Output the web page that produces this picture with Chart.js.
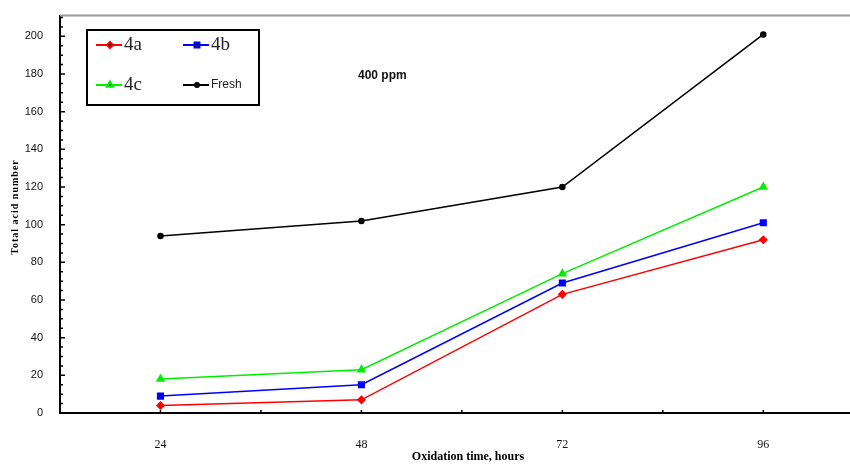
<!DOCTYPE html>
<html>
<head>
<meta charset="utf-8">
<script src="https://cdn.jsdelivr.net/npm/chart.js@4"></script>
<style>
  body { margin: 0; background: #fff; }
  canvas { display: block; }
</style>
</head>
<body>
<canvas id="acidChart" width="850" height="465"></canvas>
<script>
const hours = [24, 48, 72, 96];
const seriesNames = ['4a', '4b', '4c', 'Fresh'];
const values4a = [4, 7, 63, 92];
const values4b = [9, 15, 69, 101];
const values4c = [18, 23, 74, 120];
const valuesFresh = [94, 102, 120, 201];
const yTickValues = [0, 20, 40, 60, 80, 100, 120, 140, 160, 180, 200];
const xMinorTicks = [24, 36, 48, 60, 72, 84, 96];

const toPoints = (vals) => vals.map((v, i) => ({ x: hours[i], y: v }));

// legend, axis titles, inward tick marks, top frame line and "400 ppm" label
const decorations = {
    id: 'decorations',
    afterDraw(chart) {
        const ctx = chart.ctx;
        const area = chart.chartArea;
        const xs = chart.scales.x;
        const ys = chart.scales.y;
        ctx.save();

        // top frame, and bottom axis carried to the edge
        ctx.strokeStyle = '#9a9a9a';
        ctx.lineWidth = 2;
        ctx.beginPath();
        ctx.moveTo(area.left, area.top);
        ctx.lineTo(850, area.top);
        ctx.stroke();
        ctx.strokeStyle = '#000';
        ctx.beginPath();
        ctx.moveTo(area.right - 2, area.bottom);
        ctx.lineTo(850, area.bottom);
        ctx.stroke();

        // inward ticks
        ctx.lineWidth = 1.5;
        ctx.beginPath();
        for (let v = 5; v <= 210; v += 5) {
            const y = ys.getPixelForValue(v);
            const len = v % 20 === 0 ? 5 : 3;
            ctx.moveTo(area.left, y);
            ctx.lineTo(area.left + len, y);
        }
        xMinorTicks.forEach(v => {
            const x = xs.getPixelForValue(v);
            ctx.moveTo(x, area.bottom);
            ctx.lineTo(x, area.bottom - 3);
        });
        ctx.stroke();

        // axis titles
        ctx.fillStyle = '#000';
        ctx.font = 'bold 12px "Liberation Serif"';
        ctx.textAlign = 'center';
        ctx.textBaseline = 'middle';
        ctx.fillText('Oxidation time, hours', 468, 457);

        ctx.save();
        ctx.translate(15, 207);
        ctx.rotate(-Math.PI / 2);
        ctx.font = 'bold 10px "Liberation Serif"';
        ctx.letterSpacing = '1px';
        ctx.fillText('Total acid number', 0, 0);
        ctx.restore();

        // 400 ppm label
        ctx.font = 'bold 12px "Liberation Sans"';
        ctx.textAlign = 'left';
        ctx.fillStyle = '#111';
        ctx.fillText('400 ppm', 358, 76);

        // legend box
        ctx.strokeStyle = '#000';
        ctx.lineWidth = 2;
        ctx.strokeRect(87, 30, 172, 75);

        const entries = [
            { ds: 0, x: 96, y: 45, font: '19px "Liberation Serif"' },
            { ds: 1, x: 183, y: 45, font: '19px "Liberation Serif"' },
            { ds: 2, x: 96, y: 85, font: '19px "Liberation Serif"' },
            { ds: 3, x: 183, y: 85, font: '12px "Liberation Sans"' }
        ];
        entries.forEach(e => {
            const ds = chart.data.datasets[e.ds];
            ctx.strokeStyle = ds.borderColor;
            ctx.lineWidth = 2;
            ctx.beginPath();
            ctx.moveTo(e.x, e.y);
            ctx.lineTo(e.x + 26, e.y);
            ctx.stroke();
            Chart.helpers.drawPoint(ctx, {
                pointStyle: ds.pointStyle,
                radius: ds.pointRadius - 0.5,
                rotation: 0,
                borderWidth: 1
            }, e.x + 14, e.y);
            ctx.fillStyle = '#222';
            ctx.font = e.font;
            ctx.textAlign = 'left';
            ctx.textBaseline = 'middle';
            ctx.fillText(seriesNames[e.ds], e.x + 28, e.y);
        });
        ctx.restore();
    }
};

function lineSet(idx, vals, color, style, radius) {
    return {
        label: seriesNames[idx],
        data: toPoints(vals),
        borderColor: color,
        backgroundColor: color,
        pointBackgroundColor: color,
        pointBorderColor: color,
        borderWidth: 1.5,
        pointStyle: style,
        pointRadius: radius,
        tension: 0
    };
}

const ctx = document.getElementById('acidChart').getContext('2d');
const acidChart = new Chart(ctx, {
    type: 'line',
    data: {
        datasets: [
            lineSet(0, values4a, '#ff0000', 'rectRot', 3.5),
            lineSet(1, values4b, '#0000ff', 'rect', 4),
            lineSet(2, values4c, '#00ee00', 'triangle', 4),
            lineSet(3, valuesFresh, '#000000', 'circle', 2.5)
        ]
    },
    options: {
        responsive: false,
        animation: false,
        layout: { padding: { top: 11, right: 0, left: 0, bottom: 0 } },
        plugins: {
            legend: { display: false },
            tooltip: { enabled: false }
        },
        scales: {
            x: {
                type: 'linear',
                min: 12,
                max: 105.7,
                grid: { display: false },
                border: { display: true, color: '#000', width: 2 },
                afterBuildTicks: (scale) => {
                    scale.ticks = hours.map(v => ({ value: v }));
                },
                afterFit: (scale) => { scale.height = 52; },
                ticks: {
                    color: '#111',
                    padding: 17,
                    font: { family: '"Liberation Serif"', size: 12 }
                }
            },
            y: {
                min: 0,
                max: 211,
                grid: { display: false },
                border: { display: true, color: '#000', width: 2 },
                afterBuildTicks: (scale) => {
                    scale.ticks = yTickValues.map(v => ({ value: v }));
                },
                afterFit: (scale) => { scale.width = 60; },
                ticks: {
                    color: '#111',
                    padding: 9,
                    font: { family: '"Liberation Sans Narrow", "Liberation Sans"', size: 11 }
                }
            }
        }
    },
    plugins: [decorations]
});
</script>
</body>
</html>
